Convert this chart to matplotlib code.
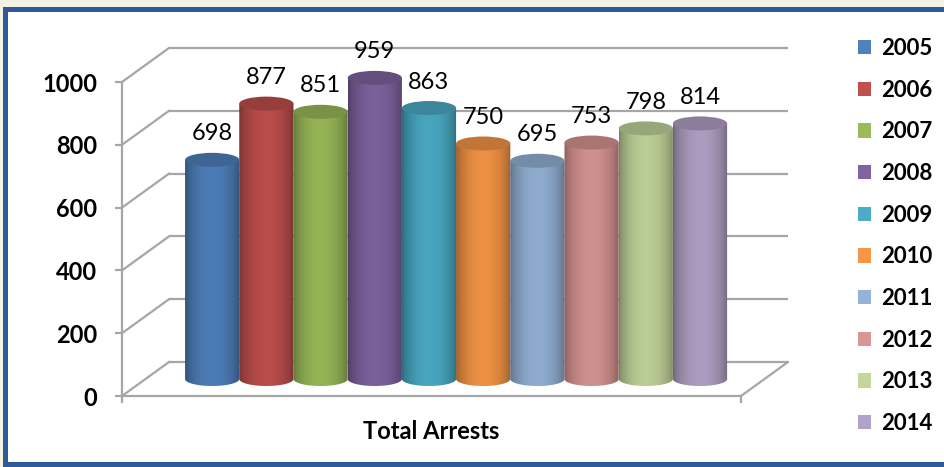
import numpy as np
import matplotlib
matplotlib.use("Agg")
import matplotlib.pyplot as plt
from matplotlib.patches import Ellipse, PathPatch, Rectangle, Patch
from matplotlib.path import Path
from matplotlib.colors import to_rgb

# ---------------- data ----------------
years = ["2005", "2006", "2007", "2008", "2009", "2010", "2011", "2012", "2013", "2014"]
values = [698, 877, 851, 959, 863, 750, 695, 753, 798, 814]
colors = ["#4F81BD", "#C0504D", "#9BBB59", "#8064A2", "#4BACC6",
          "#F79646", "#95B3D7", "#D99694", "#C3D69B", "#B3A2C7"]
yticks = [0, 200, 400, 600, 800, 1000]
category = "Total Arrests"

# ---------------- layout (pixels) ----------------
W, H = 945, 467
FONT = "Lato"
plt.rcParams["font.family"] = [FONT, "DejaVu Sans"]

fig = plt.figure(figsize=(W / 100, H / 100), dpi=100)
fig.patch.set_facecolor("white")

mid_x0, mid_x1 = 145.5, 764.5
xlim = (-1.23, 10.19)
ppu_x = (mid_x1 - mid_x0) / (xlim[1] - xlim[0])
y0_px = 379.0          # pixel row of value 0 on the mid-depth plane
ppu_y = 0.314          # pixels per unit
ylo, yhi = -100, 1050
dx_px, dy_px = 23.5, 17.0   # half depth offset
dxd, dyd = dx_px / ppu_x, dy_px / ppu_y

grid_c = "#A6A6A6"
grid_lw = 1.6

# mid-depth axes (bars)
ax = fig.add_axes([mid_x0 / W, (H - (y0_px - ylo * ppu_y)) / H,
                   (mid_x1 - mid_x0) / W, (yhi - ylo) * ppu_y / H])
ax.set_xlim(*xlim)
ax.set_ylim(ylo, yhi)
ax.axis("off")

# front axes (axis lines, ticks, labels)
fax = fig.add_axes([(mid_x0 - dx_px) / W, (H - (y0_px + dy_px)) / H,
                    (mid_x1 - mid_x0) / W, 1000 * ppu_y / H])
fax.set_xlim(*xlim)
fax.set_ylim(0, 1000)
fax.patch.set_alpha(0)
for s in ["top", "right"]:
    fax.spines[s].set_visible(False)
for s in ["left", "bottom"]:
    fax.spines[s].set_color(grid_c)
    fax.spines[s].set_linewidth(grid_lw)
fax.set_yticks(yticks)
fax.set_yticklabels([str(t) for t in yticks], fontsize=17, fontweight="bold")
fax.tick_params(axis="y", length=5, width=grid_lw, color=grid_c, pad=13)
fax.set_xticks(list(xlim))
fax.set_xticklabels([])
fax.tick_params(axis="x", length=5, width=grid_lw, color=grid_c)
fax.set_xlabel(category, fontsize=17, fontweight="bold", labelpad=9)

# back wall gridlines and left wall diagonals
xl, xr = xlim
for v in yticks:
    ax.plot([xl + dxd, xr + dxd], [v + dyd, v + dyd], color=grid_c, lw=grid_lw,
            clip_on=False, zorder=1, solid_capstyle="butt")
    ax.plot([xl - dxd, xl + dxd], [v - dyd, v + dyd], color=grid_c, lw=grid_lw,
            clip_on=False, zorder=1)
ax.plot([xr - dxd, xr + dxd], [-dyd, dyd], color=grid_c, lw=grid_lw,
        clip_on=False, zorder=1)

# cylinders
eh = 7.0 / ppu_y
t = np.linspace(0, 1, 256)
k = 0.6 + 0.36 * np.sin(np.pi * t) ** 0.6
theta = np.linspace(np.pi, 2 * np.pi, 60)
for i, (v, c) in enumerate(zip(values, colors)):
    base = np.array(to_rgb(c))
    verts = [(i - 0.5, v), (i - 0.5, 0)]
    verts += [(i + 0.5 * np.cos(th), eh * np.sin(th)) for th in theta]
    verts += [(i + 0.5, v), (i - 0.5, v)]
    codes = [Path.MOVETO] + [Path.LINETO] * (len(verts) - 2) + [Path.CLOSEPOLY]
    body = PathPatch(Path(verts, codes), facecolor="none", edgecolor="none")
    ax.add_patch(body)
    grad = np.clip(base[None, None, :] * k[None, :, None], 0, 1)
    im = ax.imshow(grad, extent=(i - 0.5, i + 0.5, -eh, v), aspect="auto",
                   interpolation="bilinear", zorder=3)
    im.set_clip_path(body)
    ax.add_patch(Ellipse((i, v), 1.0, 2 * eh, facecolor=np.clip(base * 0.78, 0, 1),
                         edgecolor="none", zorder=4))
    ax.text(i, v + 26 / ppu_y, str(v), ha="center", va="center", fontsize=17,
            color="black", zorder=5)

ax.set_xlim(*xlim)
ax.set_ylim(ylo, yhi)

# legend
handles = [Patch(facecolor=c, edgecolor="none") for c in colors]
fig.legend(handles, years, loc="upper left", bbox_to_anchor=(858 / W, 1 - 38 / H),
           frameon=False, prop={"family": FONT, "size": 16, "weight": "bold"},
           handlelength=0.6, handleheight=0.6, handletextpad=0.45,
           labelspacing=0.93, borderpad=0, borderaxespad=0)

# frame
blue = "#2E5A99"
cream = "#F4F2E3"
def frect(x, y, w, h, col):
    fig.add_artist(Rectangle((x / W, 1 - (y + h) / H), w / W, h / H,
                             transform=fig.transFigure, facecolor=col,
                             edgecolor="none", zorder=0))
frect(0, 0, W, 7, cream)
frect(0, 0, 3, H, cream)
frect(3, 7, 5, H - 7, blue)
frect(3, 7, W - 3, 5, blue)
frect(3, H - 5, W - 3, 5, blue)

fig.savefig("out.png", dpi=100)
